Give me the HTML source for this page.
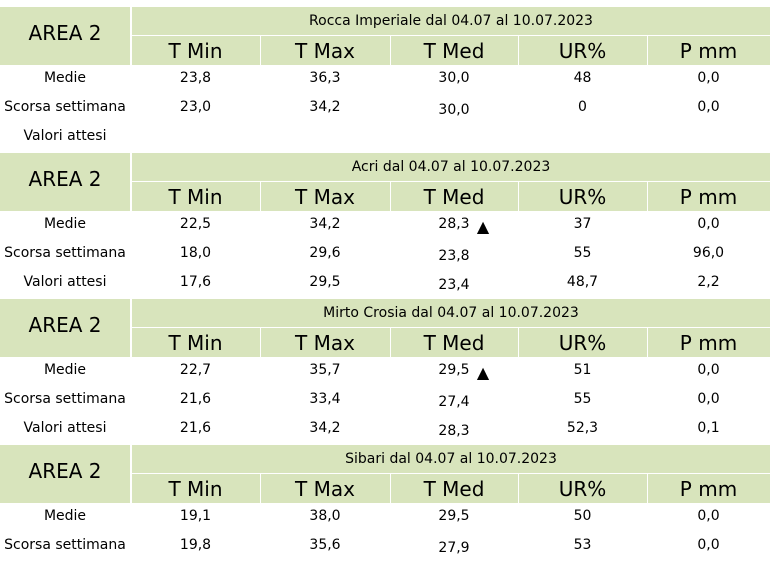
<!DOCTYPE html>
<html><head><meta charset="utf-8">
<style>
body{margin:0;width:770px;height:564px;background:#fff;position:relative;overflow:hidden;font-family:Tahoma,"DejaVu Sans","Liberation Sans",sans-serif;color:#000}
.a{position:absolute;box-sizing:border-box}
.g{background:#d8e4bc}
.t{position:absolute;text-align:center;white-space:nowrap;transform:translateX(-50%)}
</style></head><body>
<script>
const titles=["Rocca Imperiale  dal 04.07 al 10.07.2023","Acri dal 04.07 al 10.07.2023","Mirto Crosia dal 04.07 al 10.07.2023","Sibari dal 04.07 al 10.07.2023"];
const colHeads=["T Min","T Max","T Med","UR%","P mm"];
const rowLabels=["Medie","Scorsa settimana","Valori attesi"];
const block1=[["23,8","36,3","30,0","48","0,0"],["23,0","34,2","30,0","0","0,0"],null];
const block2=[["22,5","34,2","28,3","37","0,0"],["18,0","29,6","23,8","55","96,0"],["17,6","29,5","23,4","48,7","2,2"]];
const block3=[["22,7","35,7","29,5","51","0,0"],["21,6","33,4","27,4","55","0,0"],["21,6","34,2","28,3","52,3","0,1"]];
const block4=[["19,1","38,0","29,5","50","0,0"],["19,8","35,6","27,9","53","0,0"]];
const blocks=[block1,block2,block3,block4];
const arrows=[false,true,true,false];
const tops=[7,153,299,445];
const colX=[131,260,390,518,647,770];
function add(cls,css,txt,name){const d=document.createElement('div');d.className=cls;d.style.cssText=css;if(txt!==undefined)d.textContent=txt;


document.body.appendChild(d);return d;}
blocks.forEach((b,i)=>{
 const y=tops[i];
 add('a g',`left:0;top:${y}px;width:130px;height:58px`,undefined,'area-cell');
 add('t',`left:65px;top:${y+14}px;font-size:20px`,'AREA 2','area-label');
 add('a g',`left:132px;top:${y}px;width:638px;height:28px`,undefined,'title-cell');
 add('t',`left:451px;top:${y+6}px;font-size:14px`,titles[i],'station-title');
 for(let c=0;c<5;c++){
  add('a g',`left:${colX[c]+1}px;top:${y+29}px;width:${colX[c+1]-colX[c]-1}px;height:29px`,undefined,'column-header-cell');
  add('t',`left:${(colX[c]+colX[c+1])/2}px;top:${y+32}px;font-size:20px`,colHeads[c],'column-header');
 }
 rowLabels.forEach((lab,r)=>{
  if(r>=b.length)return;
  const ry=y+63+r*29;
  add('t',`left:65px;top:${ry}px;font-size:14px`,lab,'row-label');
  const vals=b[r]; if(!vals)return;
  vals.forEach((v,c)=>{
   const off=(c===2&&r>0)?3:0;
   add('t',`left:${(colX[c]+colX[c+1])/2}px;top:${ry+off}px;font-size:14px`,v,'value-cell');
  });
  if(r===0&&arrows[i]) add('t',`left:483px;top:${ry+1}px;font-size:16px`,'▲','trend-arrow');
 });
});
</script>
</body></html>
